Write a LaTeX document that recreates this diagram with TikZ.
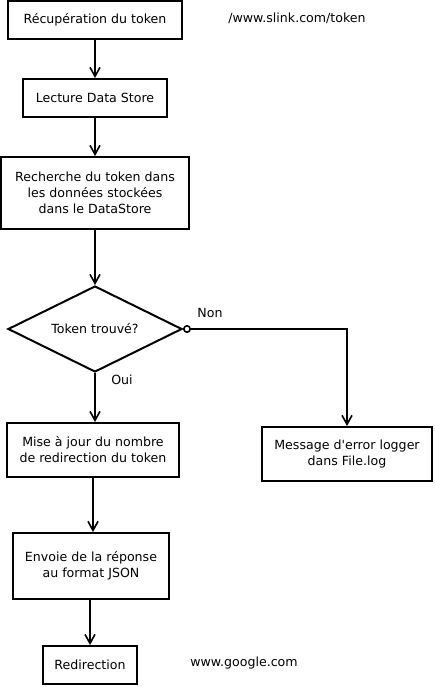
\documentclass[tikz,border=0pt]{standalone}
\usepackage{fontspec}
\newfontfamily\dv{DejaVu Sans}
\usetikzlibrary{arrows.meta,shapes.geometric}
\begin{document}
\begin{tikzpicture}[x=1pt,y=-1pt,
  txt/.style={font=\dv\fontsize{12.6}{16}\selectfont},
  box/.style={draw,line width=2pt,minimum width=#1,inner sep=0pt,align=center,txt},
  lbl/.style={txt,inner sep=0pt},
  arr/.style={line width=2pt,-{Straight Barb[length=9pt,width=10pt,line width=1.6pt]}}]
\useasboundingbox (0,0) rectangle (435,687);
\node[box=174pt,minimum height=38pt] (b1) at (95,20) {Récupération du token};
\node[box=144pt,minimum height=38pt] (b2) at (95,98) {Lecture Data Store};
\node[box=188pt,minimum height=72pt] (b3) at (95,193) {Recherche du token dans\\les données stockées\\dans le DataStore};
\node[draw,line width=2pt,diamond,aspect=2,minimum width=174pt,minimum height=86pt,inner sep=0pt,lbl] (d) at (95,329) {Token trouvé?};
\node[box=172pt,minimum height=54pt] (b4) at (93,450) {Mise à jour du nombre\\de redirection du token};
\node[box=170pt,minimum height=54pt] (b5) at (347,454) {Message d'error logger\\dans File.log};
\node[box=156pt,minimum height=66pt] (b6) at (91,566) {Envoie de la réponse\\au format JSON};
\node[box=94pt,minimum height=38pt] (b7) at (90,665) {Redirection};
\node[lbl] (t1) at (297,18) {/www.slink.com/token};
\node[lbl] (t2) at (244,663) {www.google.com};
\node[lbl] (non) at (210,313) {Non};
\node[lbl] (oui) at (122,380) {Oui};
\coordinate (c1) at (347,329);
\draw[arr] (b1) -- (b2);
\draw[arr] (b2) -- (b3);
\draw[arr] (b3) -- (d);
\draw[arr] (d.south) -- (d.south |- b4.north);
\draw[arr] (b4.south -| 93,0) -- (b6.north -| 93,0);
\draw[arr] (b6.south -| 90,0) -- (b7.north -| 90,0);
\draw[line width=2pt,{Circle[open,length=8pt,width=8pt,line width=1.6pt]}-{Straight Barb[length=9pt,width=10pt,line width=1.6pt]}] (d.east) -- (c1) -- (b5.north -| c1);
\end{tikzpicture}
\end{document}
